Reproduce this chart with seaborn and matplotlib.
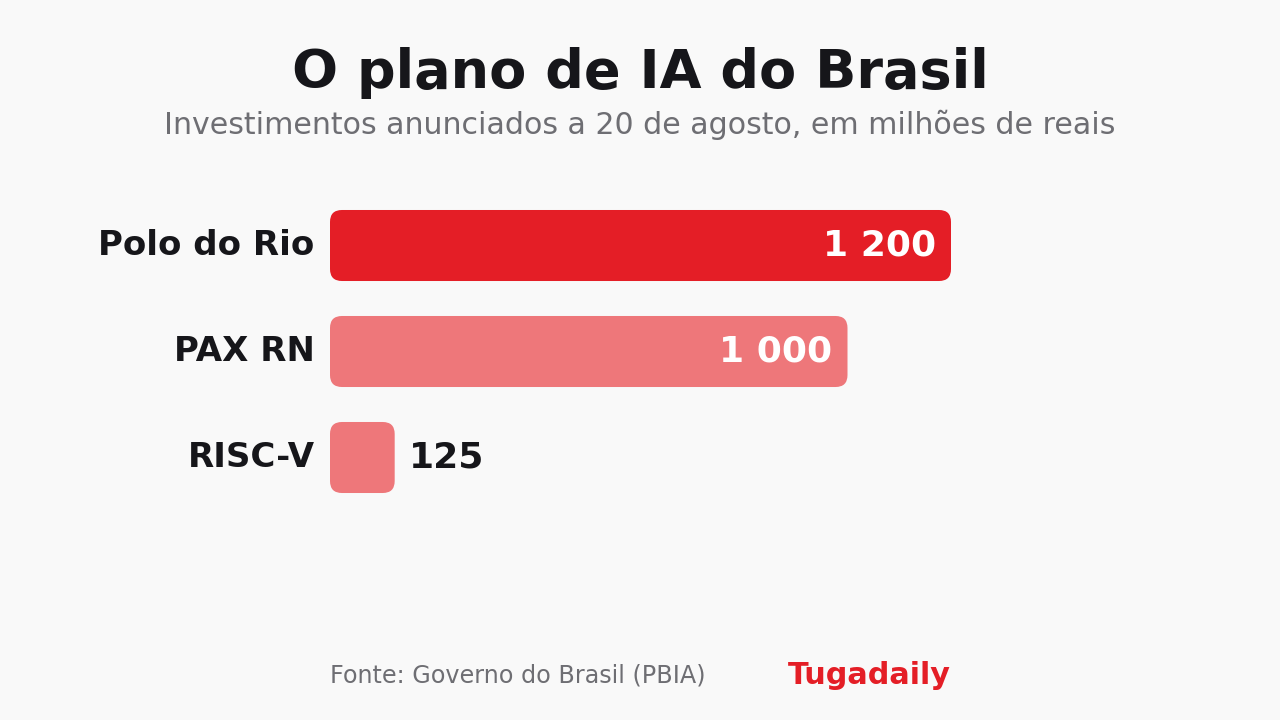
import matplotlib
matplotlib.use("Agg")
import matplotlib.pyplot as plt
import seaborn as sns
import pandas as pd
from matplotlib.patches import FancyBboxPatch

# ── data ───────────────────────────────────────────────
projetos = ["Polo do Rio", "PAX RN", "RISC-V"]
valores = [1200, 1000, 125]
rotulos = ["1 200", "1 000", "125"]

BG = "#f9f9f9"
RED = "#e41e26"
LIGHT = "#ee777a"
DARK = "#16161a"
GREY = "#6e6e73"

sns.set_theme(style="white")
plt.rcParams["font.family"] = ["DejaVu Sans"]

df = pd.DataFrame({"projeto": projetos, "valor": valores})

fig = plt.figure(figsize=(12.8, 7.2), dpi=100)
fig.patch.set_facecolor(BG)
# axes placed in pixels: x 330..951 for 0..1200, rows 106 px apart
ax = fig.add_axes([330 / 1280, 1 - 510.5 / 720, 621 / 1280, 318 / 720])
ax.set_facecolor(BG)

sns.barplot(data=df, x="valor", y="projeto", hue="projeto",
            palette=[RED, LIGHT, LIGHT], saturation=1, width=0.67,
            legend=False, ax=ax)
ax.set_xlim(0, 1200)
ax.set_ylim(2.5, -0.5)

# swap the square bars for rounded ones
px_x = 1200 / 621
px_y = 1 / 106
for p in list(ax.patches):
    x, y = p.get_x(), p.get_y()
    w, h = p.get_width(), p.get_height()
    rb = FancyBboxPatch((x, y), w, h,
                        boxstyle=f"round,pad=0,rounding_size={12 * px_x}",
                        mutation_aspect=px_y / px_x,
                        facecolor=p.get_facecolor(), edgecolor="none")
    p.remove()
    ax.add_patch(rb)

for i, (v, lab) in enumerate(zip(valores, rotulos)):
    if v > 300:
        ax.text(v - 15 * px_x, i, lab, ha="right", va="center",
                fontsize=26, fontweight="bold", color="white")
    else:
        ax.text(v + 14 * px_x, i, lab, ha="left", va="center",
                fontsize=26, fontweight="bold", color=DARK)

ax.set_xlabel("")
ax.set_ylabel("")
ax.set_xticks([])
ax.tick_params(axis="y", length=0, pad=11)
for t in ax.get_yticklabels():
    t.set_fontsize(24.5)
    t.set_fontweight("bold")
    t.set_color(DARK)
    t.set_verticalalignment("center")
sns.despine(ax=ax, left=True, bottom=True)

fig.text(0.5, 1 - 73 / 720, "O plano de IA do Brasil", ha="center", va="center",
         fontsize=39, fontweight="bold", color=DARK)
fig.text(0.5, 1 - 125 / 720, "Investimentos anunciados a 20 de agosto, em milhões de reais",
         ha="center", va="center", fontsize=21.6, color=GREY)
fig.text(330 / 1280, 1 - 675 / 720, "Fonte: Governo do Brasil (PBIA)",
         ha="left", va="center", fontsize=17.2, color=GREY)
fig.text(951 / 1280, 1 - 675 / 720, "Tugadaily", ha="right", va="center",
         fontsize=21.8, fontweight="bold", color=RED)

fig.savefig("out.png", dpi=100, facecolor=BG)
